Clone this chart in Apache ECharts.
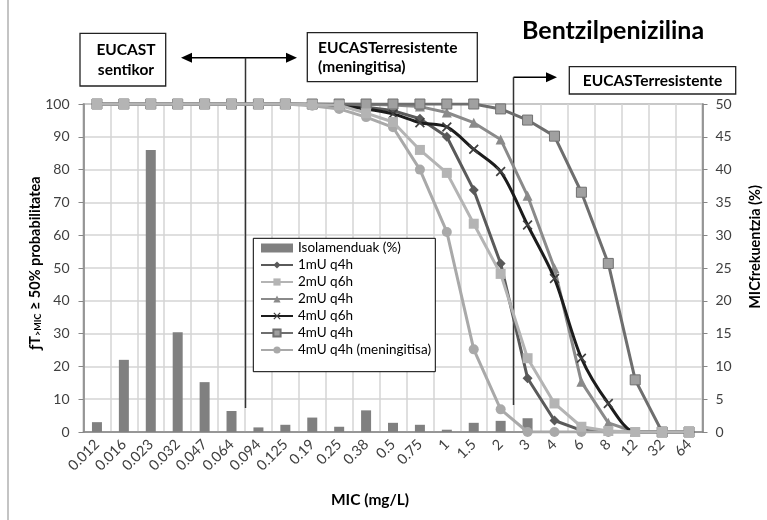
<!DOCTYPE html>
<html><head><meta charset="utf-8">
<script src="https://cdn.jsdelivr.net/npm/echarts@6/dist/echarts.min.js"></script>
<style>html,body{margin:0;padding:0;background:#fff}#c{width:767px;height:520px}</style>
</head><body><div id="c"></div>
<script>
const categories = ['0.012','0.016','0.023','0.032','0.047','0.064','0.094','0.125','0.19','0.25','0.38','0.5','0.75','1','1.5','2','3','4','6','8','12','32','64'];
const isolamenduak = [1.5,11,43,15.2,7.6,3.2,0.7,1.1,2.2,0.8,3.3,1.4,1.1,0.35,1.4,1.7,2.1,0,0,0,0,0,0];
const mU1q4h   = [100,100,100,100,100,100,100,100,100,99.8,99,98,95.5,90,73.8,51.4,16.4,3.5,0.5,0,0,0,0];
const mU2q6h   = [100,100,100,100,100,100,100,100,99.8,99.6,97.2,94.5,86,79,63.5,48.2,22.5,8.7,1.6,0.3,0,0,0];
const mU2q4h   = [100,100,100,100,100,100,100,100,100,100,99.9,99.7,99.2,97.4,94.3,89.2,72,49.9,15.3,2.8,0,0,0];
const mU4q6h   = [100,100,100,100,100,100,100,100,99.8,99.4,98.5,97,94.3,93,86.2,79.4,63.1,46.8,22.5,8.7,0,0,0];
const mU4q4h   = [100,100,100,100,100,100,100,100,100,100,100,100,100,100,100,98.5,95.1,90.2,73.1,51.4,15.9,0,0];
const mU4q4hMen= [100,100,100,100,100,100,100,100,99.5,98.5,96,92.9,80,61,25.2,6.9,0,0,0,0,0,0,0];
const leftTicks = {min:0,max:100,interval:10};
const rightTicks = {min:0,max:50,interval:5};

const FONT = 'Lato';
const chart = echarts.init(document.getElementById('c'), null, {renderer:'canvas'});
const X_SYM = 'path://M0,1.2L1.2,0L10,8.8L8.8,10Z M8.8,0L10,1.2L1.2,10L0,8.8Z';
function lineSeries(name, data, color, symbol, size, opts){
  return Object.assign({
    name, type:'line', data, yAxisIndex:0, symbol, symbolSize:size,
    lineStyle:{color, width:3}, itemStyle:{color}, emphasis:{disabled:true}
  }, opts||{});
}
const option = {
  animation:false,
  backgroundColor:'#fff',
  textStyle:{fontFamily:FONT},
  grid:{left:83.5, right:64.5, top:104, bottom:88, show:true, borderColor:'#868686', borderWidth:1.5},
  xAxis:{type:'category', data:categories, boundaryGap:true,
    axisLine:{lineStyle:{color:'#868686', width:1.5}}, axisTick:{show:false},
    axisLabel:{rotate:45, interval:0, fontSize:14.5, color:'#404040', margin:10, fontFamily:FONT},
    splitLine:{show:true, interval:0, lineStyle:{color:'#d4d4d4', width:1.5}}},
  yAxis:[
    {type:'value', min:leftTicks.min, max:leftTicks.max, interval:leftTicks.interval, position:'left',
     axisLine:{show:true, lineStyle:{color:'#868686', width:1.5}}, axisTick:{show:true, length:5, lineStyle:{color:'#868686'}},
     axisLabel:{fontSize:14, color:'#404040', margin:14, fontFamily:FONT},
     splitLine:{show:true, lineStyle:{color:'#d4d4d4', width:1.5}}},
    {type:'value', min:rightTicks.min, max:rightTicks.max, interval:rightTicks.interval, position:'right',
     axisLine:{show:true, lineStyle:{color:'#868686', width:1.5}}, axisTick:{show:true, length:5, lineStyle:{color:'#868686'}},
     axisLabel:{fontSize:14, color:'#404040', margin:13, fontFamily:FONT},
     splitLine:{show:false}}
  ],
  legend:{orient:'vertical', left:256, top:240, z:20, padding:[1,6,1,4], itemGap:3,
    itemWidth:32, itemHeight:9, textStyle:{fontSize:13.5, color:'#000', fontFamily:FONT},
    data:[{name:'Isolamenduak (%)', icon:'rect'},'1mU q4h','2mU q6h','2mU q4h','4mU q6h','4mU q4h','4mU q4h (meningitisa)']},
  series:[
    {name:'Isolamenduak (%)', type:'bar', data:isolamenduak, yAxisIndex:1, barWidth:10, itemStyle:{color:'#808080'}, z:1},
    lineSeries('1mU q4h', mU1q4h, '#5a5a5a', 'diamond', 10, {z:3}),
    lineSeries('2mU q6h', mU2q6h, '#b4b4b4', 'rect', 10, {z:8}),
    lineSeries('2mU q4h', mU2q4h, '#8a8a8a', 'triangle', 10, {z:4}),
    lineSeries('4mU q6h', mU4q6h, '#1c1c1c', X_SYM, 10, {z:5, smooth:0.3, itemStyle:{color:'#404040'}}),
    lineSeries('4mU q4h', mU4q4h, '#6e6e6e', 'rect', 10, {z:6, itemStyle:{color:'#a0a0a0', borderColor:'#707070', borderWidth:1}}),
    lineSeries('4mU q4h (meningitisa)', mU4q4hMen, '#a9a9a9', 'circle', 10, {z:7})
  ],
  graphic:[
    {type:'line', shape:{x1:8,y1:0,x2:8,y2:520}, style:{stroke:'#b0b0b0', lineWidth:1.5}},
    {type:'rect', z:15, shape:{x:253.3,y:238.3,width:182,height:133.4}, style:{fill:'#fff', stroke:'#000', lineWidth:1}},
    {type:'text', left:522, top:18, style:{text:'Bentzilpenizilina', font:'bold 25px '+FONT, fill:'#000'}},
    {type:'rect', shape:{x:80,y:33.3,width:85.7,height:52.7}, style:{fill:'#fff', stroke:'#222', lineWidth:1.3}},
    {type:'text', x:126, y:59.5, style:{text:'EUCAST\nsentikor', font:'bold 15.5px '+FONT, fill:'#000', align:'center', verticalAlign:'middle', lineHeight:20}},
    {type:'rect', shape:{x:307.3,y:32.7,width:170,height:49}, style:{fill:'#fff', stroke:'#222', lineWidth:1.3}},
    {type:'text', x:318, y:57, style:{text:'EUCASTerresistente\n(meningitisa)', font:'bold 15.5px '+FONT, fill:'#000', align:'left', verticalAlign:'middle', lineHeight:19}},
    {type:'rect', shape:{x:569.3,y:66.7,width:166.4,height:27.3}, style:{fill:'#fff', stroke:'#222', lineWidth:1.3}},
    {type:'text', x:652.5, y:80.5, style:{text:'EUCASTerresistente', font:'bold 15.5px '+FONT, fill:'#000', align:'center', verticalAlign:'middle'}},
    // arrows 1
    {type:'line', z:2, shape:{x1:190,y1:57.7,x2:288,y2:57.7}, style:{stroke:'#000', lineWidth:1.5}},
    {type:'polygon', z:2, shape:{points:[[181,57.7],[192,52.7],[192,62.7]]}, style:{fill:'#000'}},
    {type:'polygon', z:2, shape:{points:[[297,57.7],[286,52.7],[286,62.7]]}, style:{fill:'#000'}},
    {type:'line', z:2, shape:{x1:245.5,y1:57.7,x2:245.5,y2:408}, style:{stroke:'#333', lineWidth:1.5}},
    // arrow 2
    {type:'line', z:2, shape:{x1:513.5,y1:77.3,x2:548,y2:77.3}, style:{stroke:'#000', lineWidth:1.5}},
    {type:'polygon', z:2, shape:{points:[[557,77.3],[546,72.3],[546,82.3]]}, style:{fill:'#000'}},
    {type:'line', z:2, shape:{x1:513.5,y1:77.3,x2:513.5,y2:405}, style:{stroke:'#333', lineWidth:1.5}},
    // axis names
    {type:'text', x:370, y:500, style:{text:'MIC (mg/L)', font:'bold 15.5px '+FONT, fill:'#000', align:'center', verticalAlign:'middle'}},
    {type:'text', x:755, y:247, rotation:Math.PI/2, style:{text:'MICfrekuentzia (%)', font:'bold 14.5px '+FONT, fill:'#000', align:'center', verticalAlign:'middle'}},
    {type:'text', x:35, y:263, rotation:Math.PI/2, style:{
      text:'{a|ƒT}{s|>MIC}{a| ≥ 50% probabilitatea}', align:'center', verticalAlign:'middle',
      rich:{a:{font:'bold 14.5px '+FONT, fill:'#000', verticalAlign:'bottom'}, s:{font:'bold 9px '+FONT, fill:'#000', verticalAlign:'bottom'}}}}
  ]
};
chart.setOption(option);
</script></body></html>
